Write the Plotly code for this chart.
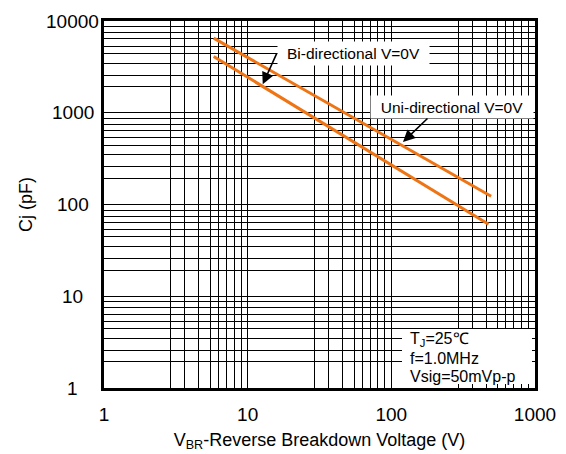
import numpy as np
import plotly.graph_objects as go

# ---- data ----
uni_v = [5.8, 495]          # V_BR (V)
uni_cj = [6500, 123]        # Cj (pF)
bi_v = [5.8, 475]
bi_cj = [4100, 61]

x_decades = [1, 10, 100, 1000]
y_decades = [1, 10, 100, 1000, 10000]
x_tick_labels = ["1", "10", "100", "1000"]
y_tick_labels = ["1", "10", "100", "1000", "10000"]

# grid-line multipliers inside each decade as drawn on the reference
x_grid_mult = [2.92, 3.66, 4.58, 5.5, 6.25, 7.14, 8.04, 9.02]
y_grid_mult = [1.93, 2.57, 3.47, 4.44, 5.33, 6.4, 7.45, 8.71]

conditions = ["T<sub>J</sub>=25℃", "f=1.0MHz", "Vsig=50mVp-p"]

ORANGE = "#EE7414"
FONT = "Liberation Sans, Arial, sans-serif"

x_minor = [d * m for d in x_decades[:-1] for m in x_grid_mult]
y_minor = [d * m for d in y_decades[:-1] for m in y_grid_mult]

fig = go.Figure()
fig.add_trace(go.Scatter(x=uni_v, y=uni_cj, mode="lines", name="Uni-directional V=0V",
                         line=dict(color=ORANGE, width=3)))
fig.add_trace(go.Scatter(x=bi_v, y=bi_cj, mode="lines", name="Bi-directional V=0V",
                         line=dict(color=ORANGE, width=3)))

annotations = []
# y tick labels (centered, like the reference)
for d, lab in zip(y_decades, y_tick_labels):
    annotations.append(dict(x=-0.073, xref="paper", y=np.log10(d), yref="y",
                            text=lab, showarrow=False, xanchor="center", yanchor="middle",
                            font=dict(size=19, color="black", family=FONT)))

# labels with white boxes and arrows
annotations.append(dict(x=1.105, y=3.31, xref="x", yref="y", text="Bi-directional V=0V",
                        showarrow=True, ax=14, ay=-31, xanchor="left", yanchor="middle",
                        arrowhead=2, arrowsize=1.5, arrowwidth=1.6, arrowcolor="black",
                        bgcolor="white", width=149, height=21, borderpad=1,
                        font=dict(size=15.5, color="black", family=FONT)))
annotations.append(dict(x=2.081, y=2.681, xref="x", yref="y", text="Uni-directional V=0V",
                        showarrow=True, ax=49, ay=-47, xanchor="center", yanchor="top",
                        arrowhead=2, arrowsize=1.5, arrowwidth=1.6, arrowcolor="black",
                        bgcolor="white", width=160, height=20, borderpad=1,
                        font=dict(size=15.5, color="black", family=FONT)))

# conditions box (white panel + three lines)
cond_y = [0.1335, 0.0817, 0.030]
for txt, yy in zip(conditions, cond_y):
    annotations.append(dict(x=0.7053, y=yy, xref="paper", yref="paper", text=txt,
                            showarrow=False, xanchor="left", yanchor="middle", align="left",
                            font=dict(size=16, color="black", family=FONT)))

fig.update_layout(
    width=566, height=454,
    margin=dict(l=104, r=31, t=21, b=66),
    paper_bgcolor="white", plot_bgcolor="white",
    showlegend=False,
    font=dict(family=FONT, color="black"),
    annotations=annotations,
    shapes=[dict(type="rect", xref="paper", yref="paper", x0=0.6914, x1=0.993,
                 y0=0.0109, y1=0.1608, fillcolor="white", line=dict(width=0),
                 layer="above")],
    xaxis=dict(type="log", range=[0, 3], tickmode="array", tickvals=x_decades,
               ticktext=x_tick_labels, ticks="", ticklabelstandoff=7,
               tickfont=dict(size=19, color="black", family=FONT),
               showgrid=True, gridcolor="black", gridwidth=1,
               minor=dict(tickmode="array", tickvals=x_minor, showgrid=True,
                          gridcolor="black", gridwidth=1, ticks=""),
               showline=True, linecolor="black", linewidth=2.5, mirror=True,
               zeroline=False, automargin=False,
               title=dict(text="V<sub>BR</sub>-Reverse Breakdown Voltage (V)",
                          font=dict(size=18, color="black", family=FONT), standoff=10)),
    yaxis=dict(type="log", range=[0, 4], tickmode="array", tickvals=y_decades,
               showticklabels=False, ticks="",
               showgrid=True, gridcolor="black", gridwidth=1,
               minor=dict(tickmode="array", tickvals=y_minor, showgrid=True,
                          gridcolor="black", gridwidth=1, ticks=""),
               showline=True, linecolor="black", linewidth=2.5, mirror=True,
               zeroline=False, automargin=False,
               title=dict(text="Cj (pF)", font=dict(size=18, color="black", family=FONT),
                          standoff=64)),
)

fig.write_html("out.html",
               config={"displayModeBar": False},
               post_script="document.body.style.margin='0';"
                           "document.body.style.overflow='hidden';")
